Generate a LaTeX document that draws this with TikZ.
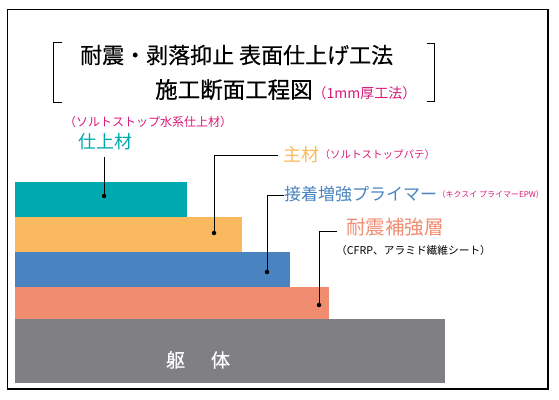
\documentclass[tikz,border=0pt]{standalone}
\usepackage{fontspec}
\setmainfont{Noto Sans CJK JP}
\newfontfamily\headfont{Noto Sans CJK JP}[FakeBold=0.5]
\usepackage{tikz}
\usetikzlibrary{positioning}

\definecolor{layerteal}{RGB}{0,169,175}
\definecolor{layerorange}{RGB}{251,185,95}
\definecolor{layerblue}{RGB}{74,132,192}
\definecolor{layersalmon}{RGB}{240,140,112}
\definecolor{layergray}{RGB}{128,128,132}
\definecolor{notepink}{RGB}{215,25,120}

\newcommand{\fs}[1]{\fontsize{#1}{#1}\selectfont}

\tikzset{
  leader/.style={line width=0.9pt, black},
  leaderdot/.style={circle, fill=black, inner sep=0pt, minimum size=4.5pt},
  lbl/.style={inner sep=0pt, anchor=west},
}

\begin{document}
\begin{tikzpicture}[x=1pt,y=-1pt]
    \useasboundingbox (0,0) rectangle (559,399);
    \draw[line width=1.1pt] (7.5,9.5) rectangle (548,389);

    % title with brackets
    \draw[line width=1pt] (62,42) -- (53,42) -- (53,102) -- (62,102);
    \draw[line width=1pt] (427,43) -- (434,43) -- (434,101) -- (427,101);
    \node[lbl] (title1) at (80,55) {\headfont\fs{22}耐震・剥落抑止 表面仕上げ工法};
    \node[lbl,anchor=base west] (title2) at (155,98)
      {\headfont\fs{22.5}施工断面工程図{\normalfont\fs{14}\color{notepink}（1mm厚工法）}};

    % layers
    \fill[layerteal]   (15,182) rectangle (187,217);
    \fill[layerorange] (15,217) rectangle (242,252);
    \fill[layerblue]   (15,252) rectangle (290,287);
    \fill[layersalmon] (15,287) rectangle (329,319);
    \fill[layergray]   (15,319) rectangle (445,383);
    \node[inner sep=0pt,white] (body) at (198,360) {\headfont\fs{19}躯\hspace{26pt}体};

    % labels
    \node[lbl] (noteT) at (64,122) {\fs{12}\color{notepink}（ソルトストップ水系仕上材）};
    \node[inner sep=0pt] (lblT) at (105,142) {\fs{18}\color{layerteal}仕上材};
    \node[lbl] (lblO) at (283,155) {\fs{18}\color{layerorange}主材};
    \node[inner sep=0pt,right=0pt of lblO] (noteO) {\fs{10.5}\color{notepink}（ソルトストップパテ）};
    \node[lbl] (lblB) at (284,194) {\fs{17}\color{layerblue}接着増強プライマー};
    \node[inner sep=0pt,right=0pt of lblB] (noteB) {\fs{8}\color{notepink}（キクスイ プライマーEPW）};
    \node[lbl] (lblS) at (346,227) {\fs{19.5}\color{layersalmon}耐震補強層};
    \node[lbl] (noteS) at (336,250) {\fs{10.7}（CFRP、アラミド繊維シート）};

    % leaders
    \node[leaderdot] (dotT) at (104,196) {};
    \node[leaderdot] (dotO) at (214,233) {};
    \node[leaderdot] (dotB) at (267,272) {};
    \node[leaderdot] (dotS) at (319,305) {};
    \coordinate (endT) at (104,157);
    \coordinate (endO) at (278,155);
    \coordinate (endB) at (284,195);
    \coordinate (endS) at (337,231);
    \draw[leader] (dotT.center) -- (endT);
    \draw[leader] (dotO.center) |- (endO);
    \draw[leader] (dotB.center) |- (endB);
    \draw[leader] (dotS.center) |- (endS);
\end{tikzpicture}
\end{document}
